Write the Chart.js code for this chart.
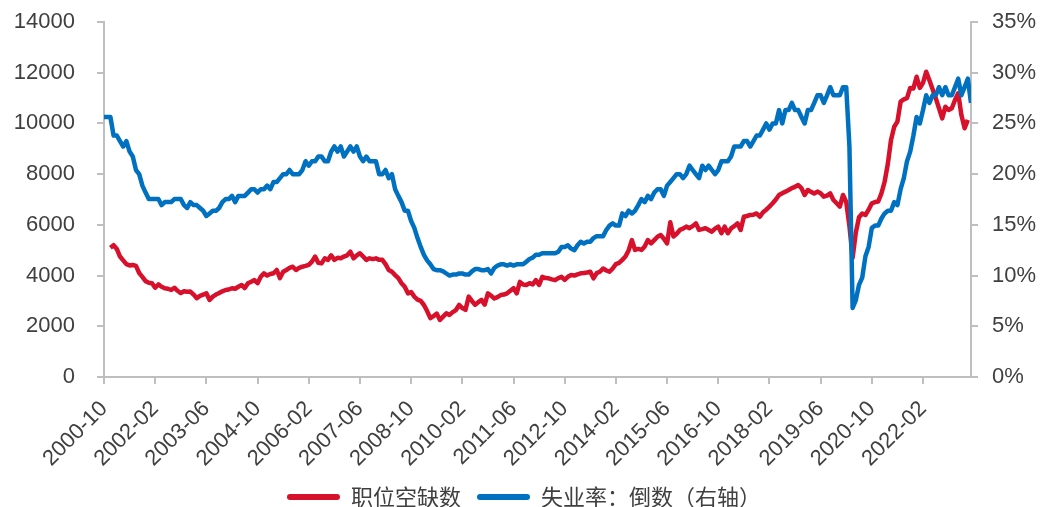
<!DOCTYPE html>
<html lang="zh-CN">
<head>
<meta charset="utf-8">
<title>职位空缺数与失业率倒数</title>
<script src="https://cdn.jsdelivr.net/npm/chart.js@4.4.1/dist/chart.umd.min.js"></script>
<style>
  html, body { margin: 0; padding: 0; background: #ffffff; }
  #wrap { width: 1041px; height: 507px; }
</style>
</head>
<body>
<div id="wrap"><canvas id="jobChart" width="1041" height="507"></canvas></div>
<script>
// 月度区间：2000-10 至 2023-05
const startYear = 2000, startMonth = 10, monthCount = 272;
const months = [];
for (let k = 0; k < monthCount; k++) {
  const y = startYear + Math.floor((startMonth - 1 + k) / 12);
  const m = (startMonth - 1 + k) % 12 + 1;
  months.push(y + "-" + String(m).padStart(2, "0"));
}

// 横轴刻度：每 16 个月一个
const tickLabels = ["2000-10", "2002-02", "2003-06", "2004-10", "2006-02", "2007-06", "2008-10",
  "2010-02", "2011-06", "2012-10", "2014-02", "2015-06", "2016-10", "2018-02", "2019-06",
  "2020-10", "2022-02"];

// 职位空缺数（千人），2000-12 起
const jobOpenings = [null, null, 5100,
  5200, 5050, 4750, 4600, 4450, 4400, 4420, 4380, 4100, 3950, 3780, 3720,   // 2001
  3700, 3520, 3650, 3560, 3500, 3480, 3430, 3520, 3400, 3310, 3380, 3360,   // 2002
  3370, 3250, 3110, 3200, 3250, 3300, 3040, 3170, 3250, 3310, 3380, 3430,   // 2003
  3450, 3500, 3480, 3560, 3630, 3510, 3700, 3760, 3820, 3700, 3950, 4090,   // 2004
  4000, 4060, 4090, 4220, 3900, 4150, 4220, 4300, 4350, 4220, 4300, 4350,   // 2005
  4380, 4420, 4550, 4750, 4500, 4480, 4680, 4620, 4800, 4620, 4700, 4680,   // 2006
  4750, 4800, 4940, 4680, 4800, 4880, 4750, 4620, 4680, 4650, 4680, 4620,   // 2007
  4620, 4450, 4220, 4150, 4020, 3900, 3700, 3560, 3300, 3350, 3170, 3050,   // 2008
  3000, 2840, 2600, 2320, 2400, 2500, 2250, 2380, 2510, 2450, 2560, 2640,   // 2009
  2840, 2720, 2650, 3170, 3000, 2850, 2950, 3040, 2850, 3300, 3200, 3100,   // 2010
  3150, 3230, 3250, 3300, 3400, 3500, 3300, 3750, 3650, 3630, 3700, 3650,   // 2011
  3820, 3630, 3950, 3900, 3890, 3850, 3820, 3900, 3950, 3830, 3950, 4020,   // 2012
  4000, 4050, 4090, 4100, 4120, 4150, 3890, 4100, 4150, 4280, 4200, 4150,   // 2013
  4280, 4450, 4500, 4620, 4750, 5000, 5400, 5010, 5050, 5010, 5150, 5400,   // 2014
  5270, 5400, 5530, 5600, 5450, 5270, 6100, 5540, 5650, 5800, 5850, 5930,   // 2015
  5870, 5950, 6060, 5800, 5830, 5870, 5800, 5730, 5850, 5930, 5670, 5930,   // 2016
  5670, 5860, 5950, 6060, 5800, 6320, 6350, 6390, 6400, 6450, 6320, 6500,   // 2017
  6600, 6720, 6850, 7000, 7180, 7250, 7310, 7375, 7450, 7500, 7570, 7450,   // 2018
  7180, 7375, 7300, 7240, 7310, 7250, 7110, 7150, 7240, 6980, 6850, 6720,   // 2019
  7180, 6900, 5950, 4700, 5700, 6300, 6450, 6390, 6600, 6850, 6900, 6920,   // 2020
  7240, 7700, 8400, 9350, 9870, 10070, 10860, 10950, 11000, 11400, 11380, 11840, // 2021
  11400, 11600, 12040, 11700, 11350, 10990, 10600, 10200, 10660, 10530, 10600, 10925, // 2022
  11190, 10330, 9810, 10140, null];                                          // 2023

// 失业率（%），右轴画其倒数
const unemploymentRate = [3.9, 3.9, 3.9,
  4.2, 4.2, 4.3, 4.4, 4.3, 4.5, 4.6, 4.9, 5.0, 5.3, 5.5, 5.7,   // 2001
  5.7, 5.7, 5.7, 5.9, 5.8, 5.8, 5.8, 5.7, 5.7, 5.7, 5.9, 6.0,   // 2002
  5.8, 5.9, 5.9, 6.0, 6.1, 6.3, 6.2, 6.1, 6.1, 6.0, 5.8, 5.7,   // 2003
  5.7, 5.6, 5.8, 5.6, 5.6, 5.6, 5.5, 5.4, 5.4, 5.5, 5.4, 5.4,   // 2004
  5.3, 5.4, 5.2, 5.2, 5.1, 5.0, 5.0, 4.9, 5.0, 5.0, 5.0, 4.9,   // 2005
  4.7, 4.8, 4.7, 4.7, 4.6, 4.6, 4.7, 4.7, 4.5, 4.4, 4.5, 4.4,   // 2006
  4.6, 4.5, 4.4, 4.5, 4.4, 4.6, 4.7, 4.6, 4.7, 4.7, 4.7, 5.0,   // 2007
  5.0, 4.9, 5.1, 5.0, 5.4, 5.6, 5.8, 6.1, 6.1, 6.5, 6.8, 7.3,   // 2008
  7.8, 8.3, 8.7, 9.0, 9.4, 9.5, 9.5, 9.6, 9.8, 10.0, 9.9, 9.9,  // 2009
  9.8, 9.8, 9.9, 9.9, 9.6, 9.4, 9.4, 9.5, 9.5, 9.4, 9.8, 9.3,   // 2010
  9.1, 9.0, 9.0, 9.1, 9.0, 9.1, 9.0, 9.0, 9.0, 8.8, 8.6, 8.5,   // 2011
  8.3, 8.3, 8.2, 8.2, 8.2, 8.2, 8.2, 8.1, 7.8, 7.8, 7.7, 7.9,   // 2012
  8.0, 7.7, 7.5, 7.6, 7.5, 7.5, 7.3, 7.2, 7.2, 7.2, 6.9, 6.7,   // 2013
  6.6, 6.7, 6.7, 6.2, 6.3, 6.1, 6.2, 6.1, 5.9, 5.7, 5.8, 5.6,   // 2014
  5.7, 5.5, 5.4, 5.4, 5.6, 5.3, 5.2, 5.1, 5.0, 5.0, 5.1, 5.0,   // 2015
  4.8, 4.9, 5.0, 5.1, 4.8, 4.9, 4.8, 4.9, 5.0, 4.9, 4.7, 4.7,   // 2016
  4.7, 4.6, 4.4, 4.4, 4.4, 4.3, 4.3, 4.4, 4.3, 4.2, 4.2, 4.1,   // 2017
  4.0, 4.1, 4.0, 4.0, 3.8, 4.0, 3.8, 3.8, 3.7, 3.8, 3.8, 3.9,   // 2018
  4.0, 3.8, 3.8, 3.7, 3.6, 3.6, 3.7, 3.6, 3.5, 3.6, 3.6, 3.6,   // 2019
  3.5, 3.5, 4.4, 14.7, 13.2, 11.0, 10.2, 8.4, 7.8, 6.8, 6.7, 6.7, // 2020
  6.4, 6.2, 6.1, 6.1, 5.8, 5.9, 5.4, 5.1, 4.7, 4.5, 4.2, 3.9,   // 2021
  4.0, 3.8, 3.6, 3.7, 3.6, 3.6, 3.5, 3.6, 3.5, 3.6, 3.6, 3.5,   // 2022
  3.4, 3.6, 3.5, 3.4, 3.7];                                      // 2023

// 倒数（%）
const inverseUnemployment = unemploymentRate.map(u => 100 / u);

const colors = {
  red: "#D7102B",
  blue: "#0070C0",
  axis: "#BFBFBF",
  text: "#404040",
};

const tickFont = { family: "'Liberation Sans', Arial, sans-serif", size: 22 };

// 以月序号作横坐标
const toPoints = arr => arr.map((v, i) => ({ x: i, y: v }));

// 坐标轴公共样式
const axisGrid = { drawOnChartArea: false, drawTicks: true, tickLength: 7, lineWidth: 2, color: colors.axis };
const axisBorder = { display: true, color: colors.axis, width: 2 };

new Chart(document.getElementById("jobChart"), {
  type: "line",
  data: {
    datasets: [
      {
        label: "职位空缺数",
        data: toPoints(jobOpenings),
        yAxisID: "y",
        borderColor: colors.red,
        backgroundColor: colors.red,
        borderWidth: 4.5,
        pointRadius: 0,
        tension: 0,
        borderJoinStyle: "round",
        order: 1,
      },
      {
        label: "失业率：倒数（右轴）",
        data: toPoints(inverseUnemployment),
        yAxisID: "y1",
        borderColor: colors.blue,
        backgroundColor: colors.blue,
        borderWidth: 4.5,
        pointRadius: 0,
        tension: 0,
        borderJoinStyle: "round",
        order: 0,
      },
    ],
  },
  options: {
    responsive: false,
    animation: false,
    devicePixelRatio: 1,
    layout: { padding: { left: 12, right: 5, top: 22, bottom: -11 } },
    plugins: {
      tooltip: { enabled: false },
      legend: {
        position: "bottom",
        labels: {
          boxWidth: 53,
          boxHeight: 6,
          useBorderRadius: true,
          borderRadius: 3,
          padding: 16,
          color: colors.text,
          font: { family: "'Noto Sans CJK SC', sans-serif", size: 22 },
          sort: (a, b) => a.datasetIndex - b.datasetIndex,
          generateLabels(chart) {
            return Chart.defaults.plugins.legend.labels.generateLabels(chart)
              .map(item => ({ ...item, lineWidth: 0 }));
          },
        },
      },
    },
    scales: {
      x: {
        type: "linear",
        min: 0,
        max: monthCount - 1,
        grid: axisGrid,
        border: axisBorder,
        ticks: {
          stepSize: 16,
          includeBounds: false,
          autoSkip: false,
          maxRotation: 45,
          minRotation: 45,
          padding: 12,
          color: colors.text,
          font: tickFont,
          callback: v => tickLabels.includes(months[v]) ? months[v] : null,
        },
        afterFit: scale => { scale.height = 93; },
      },
      y: {
        position: "left",
        min: 0,
        max: 14000,
        grid: axisGrid,
        border: axisBorder,
        ticks: { stepSize: 2000, padding: 22, color: colors.text, font: tickFont, callback: v => String(v) },
        afterFit: scale => { scale.width = 92; scale.paddingTop = 0; scale.paddingBottom = 0; },
      },
      y1: {
        position: "right",
        min: 0,
        max: 35,
        grid: axisGrid,
        border: axisBorder,
        ticks: { stepSize: 5, padding: 14, color: colors.text, font: tickFont, callback: v => v + "%" },
        afterFit: scale => { scale.width = 65; scale.paddingTop = 0; scale.paddingBottom = 0; },
      },
    },
  },
});
</script>
</body>
</html>
